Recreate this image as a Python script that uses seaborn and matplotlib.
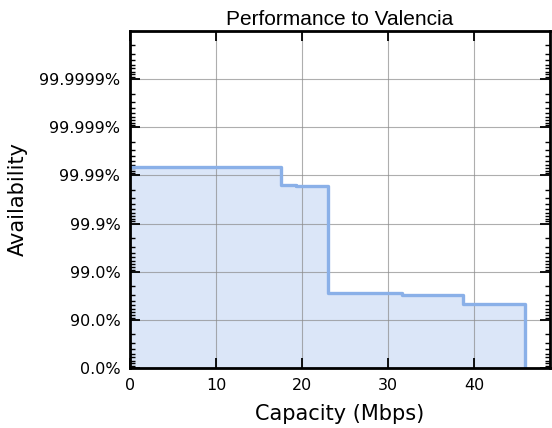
import numpy as np
import pandas as pd
import matplotlib
matplotlib.use("Agg")
import matplotlib.pyplot as plt
from matplotlib.ticker import FixedLocator, FixedFormatter
import seaborn as sns

# Step curve: capacity breakpoints (Mbps) and availability (%) reached from each breakpoint on
capacity = [0.0, 12.2, 15.8, 17.6, 19.3, 22.95, 24.6, 31.6, 38.7, 45.9]
availability_pct = [99.99335, 99.99330, 99.99325, 99.9845, 99.9834, 97.26, 97.18, 96.94, 95.21, 0.0]

tick_values_pct = [0.0, 90.0, 99.0, 99.9, 99.99, 99.999, 99.9999]
tick_labels = ["0.0%", "90.0%", "99.0%", "99.9%", "99.99%", "99.999%", "99.9999%"]
x_ticks = [0, 10, 20, 30, 40]


def nines(a):
    a = np.asarray(a, dtype=float)
    return -np.log10(np.clip(1.0 - a, 1e-12, None))


def nines_inv(y):
    y = np.asarray(y, dtype=float)
    return 1.0 - 10.0 ** (-y)


df = pd.DataFrame({"capacity": capacity,
                   "availability": np.array(availability_pct) / 100.0})

sns.set_style("ticks")
plt.rcParams["font.family"] = ["DejaVu Sans"]
plt.rcParams["text.color"] = "black"
plt.rcParams["axes.labelcolor"] = "black"

fig = plt.figure(figsize=(5.52, 4.28), dpi=100)
ax = fig.add_axes([0.2355, 0.1402, 0.7609, 0.7874])
ax.set_yscale("function", functions=(nines, nines_inv))

line_color = "#8ab0e8"
fill_color = "#dbe6f8"

ax.fill_between(df["capacity"], df["availability"], 0.0, step="post",
                color=fill_color, linewidth=0, zorder=1)
sns.lineplot(data=df, x="capacity", y="availability", ax=ax,
             drawstyle="steps-post", color=line_color, linewidth=2.4,
             zorder=3, estimator=None, sort=False)

ax.set_xlim(0, 48.8)
ax.set_ylim(0.0, nines_inv(7.0))

# Major ticks at each "nine", minor ticks inside each decade of unavailability
ax.yaxis.set_major_locator(FixedLocator([v / 100.0 for v in tick_values_pct]))
ax.yaxis.set_major_formatter(FixedFormatter(tick_labels))
minor = []
for k in range(7):
    for m in range(2, 10):
        minor.append(1.0 - m * 10.0 ** (-(k + 1)))
ax.yaxis.set_minor_locator(FixedLocator(minor))

ax.set_xticks(x_ticks)
ax.xaxis.set_minor_locator(FixedLocator([]))

ax.grid(True, which="major", color="#8c8c8c", linewidth=0.8, alpha=0.7, zorder=2)
ax.set_axisbelow(False)

ax.tick_params(axis="both", which="major", direction="in", length=7, width=1.3,
               top=True, right=True, labelsize=11.5, colors="black",
               labelcolor="black", pad=7)
ax.tick_params(axis="y", which="minor", direction="in", length=3.5, width=1.0,
               left=True, right=True, colors="black")

for side in ["left", "right", "top", "bottom"]:
    ax.spines[side].set_visible(True)
    ax.spines[side].set_linewidth(2.0)
    ax.spines[side].set_color("black")
    ax.spines[side].set_zorder(5)

ax.set_title("Performance to Valencia", fontsize=15, color="black",
             family=["Liberation Sans", "DejaVu Sans"], pad=4)
ax.set_xlabel("Capacity (Mbps)", fontsize=15, labelpad=8, color="black")
ax.set_ylabel("Availability", fontsize=15, labelpad=8, color="black")

fig.savefig("out.png", dpi=100)
